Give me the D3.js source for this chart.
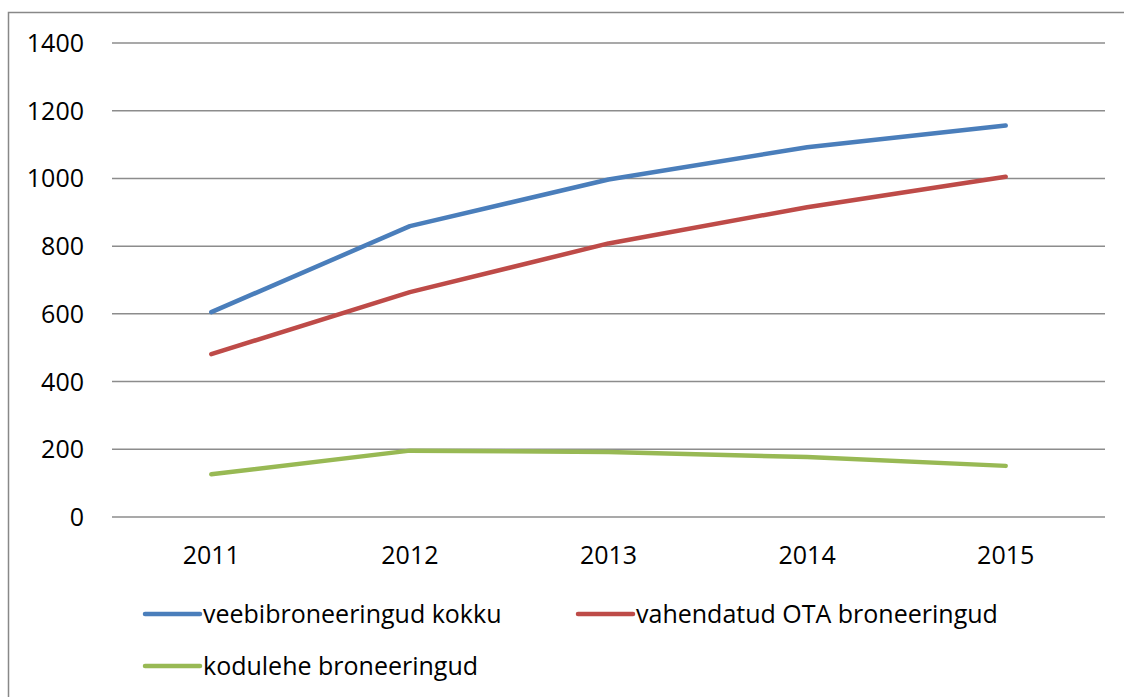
<!DOCTYPE html>
<html>
<head>
<meta charset="utf-8">
<script src="https://cdn.jsdelivr.net/npm/d3@7"></script>
<style>
  body { margin: 0; background: #fff; }
  svg { display: block; font-family: "Open Sans", "Noto Sans", sans-serif; }
</style>
</head>
<body>
<svg id="chart" width="1124" height="697"></svg>
<script>
const years = ['2011', '2012', '2013', '2014', '2015'];
const yTicks = [0, 200, 400, 600, 800, 1000, 1200, 1400];

const seriesNames = ['veebibroneeringud kokku', 'vahendatud OTA broneeringud', 'kodulehe broneeringud'];
const seriesColors = ['#4A7EBB', '#BE4B48', '#98B954'];
const veebi = [605, 859, 997, 1092, 1156];
const ota = [481, 664, 808, 915, 1005];
const kodulehe = [126, 196, 192, 177, 151];
const seriesValues = [veebi, ota, kodulehe];

const svg = d3.select('#chart');

// outer frame
svg.append('rect')
  .attr('x', 8.5).attr('y', 12.5)
  .attr('width', 1130).attr('height', 700)
  .attr('fill', 'none')
  .attr('stroke', '#888')
  .attr('stroke-width', 1.5);

const x = d3.scaleBand().domain(years).range([112, 1105]);
const y = d3.scaleLinear().domain([0, 1400]).range([517, 43]);

// gridlines
svg.append('g')
  .selectAll('line')
  .data(yTicks)
  .join('line')
  .attr('x1', 112).attr('x2', 1105)
  .attr('y1', d => y(d)).attr('y2', d => y(d))
  .attr('stroke', '#8c8c8c')
  .attr('stroke-width', 1.5);

// y labels
svg.append('g')
  .selectAll('text')
  .data(yTicks)
  .join('text')
  .attr('x', 84)
  .attr('y', d => y(d))
  .attr('dy', '0.36em')
  .attr('text-anchor', 'end')
  .attr('font-size', 25)
  .attr('fill', '#000')
  .text(d => d);

// x labels
svg.append('g')
  .selectAll('text')
  .data(years)
  .join('text')
  .attr('x', d => x(d) + x.bandwidth() / 2)
  .attr('y', 564)
  .attr('text-anchor', 'middle')
  .attr('font-size', 25)
  .attr('fill', '#000')
  .text(d => d);

const line = d3.line()
  .x((d, i) => x(years[i]) + x.bandwidth() / 2)
  .y(d => y(d));

seriesValues.forEach((vals, k) => {
  svg.append('path')
    .datum(vals)
    .attr('d', line)
    .attr('fill', 'none')
    .attr('stroke', seriesColors[k])
    .attr('stroke-width', 4.5)
    .attr('stroke-linecap', 'round')
    .attr('stroke-linejoin', 'round');
});

// legend
const legendPos = [[145, 614], [578, 614], [145, 666]];
seriesNames.forEach((name, k) => {
  const [lx, ly] = legendPos[k];
  svg.append('line')
    .attr('x1', lx).attr('x2', lx + 55)
    .attr('y1', ly).attr('y2', ly)
    .attr('stroke', seriesColors[k])
    .attr('stroke-width', 4.5)
    .attr('stroke-linecap', 'round');
  svg.append('text')
    .attr('x', lx + 58)
    .attr('y', ly)
    .attr('dy', '0.36em')
    .attr('font-size', 25)
    .attr('fill', '#000')
    .text(name);
});
</script>
</body>
</html>
